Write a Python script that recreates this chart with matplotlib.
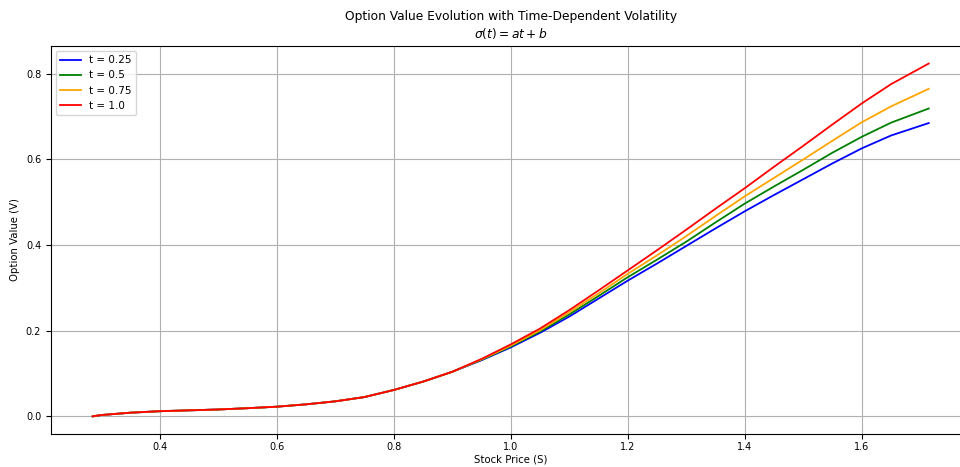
import matplotlib
matplotlib.use("Agg")
import matplotlib.pyplot as plt

S = [0.2857, 0.3, 0.35, 0.4, 0.45, 0.5, 0.55, 0.6, 0.65, 0.7, 0.75, 0.8, 0.85, 0.9,
     0.95, 1.0, 1.05, 1.1, 1.15, 1.2, 1.25, 1.3, 1.35, 1.4, 1.45, 1.5, 1.55, 1.6, 1.65, 1.7143]

common = [0.0, 0.003, 0.0085, 0.012, 0.014, 0.016, 0.019, 0.0225, 0.028, 0.035, 0.045,
          0.0615, 0.081, 0.104]

v_025 = common + [0.131, 0.161, 0.195, 0.233, 0.275, 0.317, 0.357, 0.398, 0.439, 0.479,
                  0.517, 0.554, 0.591, 0.626, 0.656, 0.685]
v_050 = common + [0.132, 0.163, 0.198, 0.238, 0.281, 0.325, 0.366, 0.408, 0.453, 0.497,
                  0.537, 0.576, 0.616, 0.653, 0.686, 0.719]
v_075 = common + [0.133, 0.165, 0.201, 0.243, 0.287, 0.333, 0.376, 0.421, 0.468, 0.514,
                  0.557, 0.600, 0.644, 0.687, 0.724, 0.765]
v_100 = common + [0.134, 0.168, 0.205, 0.248, 0.294, 0.341, 0.388, 0.436, 0.485, 0.533,
                  0.583, 0.632, 0.682, 0.731, 0.776, 0.824]

labels = ["t = 0.25", "t = 0.5", "t = 0.75", "t = 1.0"]
colors = ["blue", "green", "orange", "red"]
series = [v_025, v_050, v_075, v_100]

fig = plt.figure(figsize=(9.6, 4.67), dpi=100)
ax = fig.add_axes([0.053, 0.0707, 0.958, 0.831])
for vals, lab, c in zip(series, labels, colors):
    ax.plot(S, vals, color=c, label=lab, linewidth=1.3)

ax.set_title("Option Value Evolution with Time-Dependent Volatility\n$\\sigma(t) = at + b$", fontsize=8.8)
ax.set_xlabel("Stock Price (S)", fontsize=7.3, labelpad=2)
ax.set_ylabel("Option Value (V)", fontsize=7.3)
ax.tick_params(labelsize=7)
ax.tick_params(axis="x", pad=2)
ax.grid(True)
ax.legend(loc="upper left", fontsize=7.5)
fig.savefig("out.png", dpi=100)
